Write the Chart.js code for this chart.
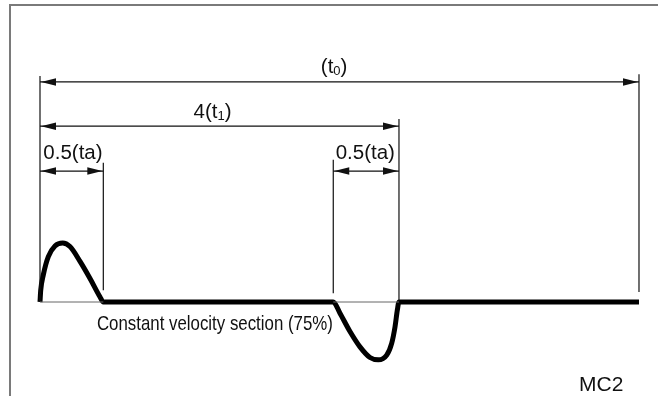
<!DOCTYPE html>
<html>
<head>
<meta charset="utf-8">
<script src="https://cdn.jsdelivr.net/npm/chart.js@4.4.1/dist/chart.umd.min.js"></script>
<style>
  html, body { margin: 0; padding: 0; background: #fff; }
  #wrap { width: 659px; height: 396px; }
</style>
</head>
<body>
<div id="wrap"><canvas id="chart" width="659" height="396"></canvas></div>
<script>
// time axis: (t0) = 100, value axis: peak of the curve = 1
const profileX = [0, 0.12, 0.55, 1.39, 2.5, 3.79, 5.0, 6.68, 8.35, 10.0, 10.57,
                  48.96, 50.08, 51.75, 53.42, 55.09, 56.48, 57.88, 58.71, 59.27, 59.65, 59.93, 100];
const profileY = [0, 0.2, 0.46, 0.77, 0.95, 1.0, 0.94, 0.69, 0.40, 0.09, 0,
                  0, -0.19, -0.50, -0.76, -0.94, -0.98, -0.90, -0.70, -0.42, -0.14, 0, 0];

// vertical extension lines
const extX = [0, 10.57, 48.96, 59.93, 100];
const extTop = [3.83, 2.36, 2.41, 3.10, 3.86];
const extBottom = [0, 0.2, 0.15, 0.03, 0.17];

// thin reference line under the two acceleration sections
const baseFrom = [0, 48.96];
const baseTo = [10.57, 59.93];

// dimension arrows
const dimFrom = [0, 0, 0, 48.96];
const dimTo = [100, 59.93, 10.57, 59.93];
const dimLevel = [3.73, 2.98, 2.22, 2.22];
const dimLabels = ['(t_0)', '4(t_1)', '0.5(ta)', '0.5(ta)'];
const dimLabelX = [49.1, 28.8, 5.5, 54.3];
const dimLabelY = [3.97, 3.21, 2.52, 2.52];

const noteText = 'Constant velocity section (75%)';
const noteX = 29.2;
const noteY = -0.38;
const tagText = 'MC2';
const tagX = 93.7;
const tagY = -1.41;

const INK = '#111';
const FONT = '"Liberation Sans", Arial, Helvetica, sans-serif';

function seg(x1, y1, x2, y2, width, color) {
    return {
        data: [{ x: x1, y: y1 }, { x: x2, y: y2 }],
        borderColor: color,
        borderWidth: width,
        pointRadius: 0,
        tension: 0,
    };
}

const datasets = [];
baseFrom.forEach((x, i) => datasets.push(seg(x, 0, baseTo[i], 0, 1, '#666')));
extX.forEach((x, i) => datasets.push(seg(x, extBottom[i], x, extTop[i], 1.2, INK)));
dimFrom.forEach((x, i) => {
    datasets.push(seg(x, dimLevel[i], dimTo[i], dimLevel[i], 1.2, INK));
});
datasets.push({
    data: profileX.map((x, i) => ({ x: x, y: profileY[i] })),
    borderColor: '#000',
    borderWidth: 5,
    pointRadius: 0,
    cubicInterpolationMode: 'monotone',
    borderCapStyle: 'butt',
    borderJoinStyle: 'round',
});

// draws text with an optional "_x" subscript
function drawLabel(ctx, text, cx, cy, size) {
    const parts = [];
    const re = /_(\w)/g;
    let last = 0, m;
    while ((m = re.exec(text)) !== null) {
        parts.push({ t: text.slice(last, m.index), sub: false });
        parts.push({ t: m[1], sub: true });
        last = re.lastIndex;
    }
    parts.push({ t: text.slice(last), sub: false });
    const subSize = Math.round(size * 0.62);
    let total = 0;
    parts.forEach(p => {
        ctx.font = (p.sub ? subSize : size) + 'px ' + FONT;
        p.w = ctx.measureText(p.t).width;
        total += p.w;
    });
    let x = cx - total / 2;
    parts.forEach(p => {
        ctx.font = (p.sub ? subSize : size) + 'px ' + FONT;
        ctx.fillText(p.t, x, p.sub ? cy + size * 0.18 : cy);
        x += p.w;
    });
}

function drawFitted(ctx, text, cx, cy, size, width) {
    ctx.font = size + 'px ' + FONT;
    const w = ctx.measureText(text).width;
    ctx.save();
    ctx.translate(cx, cy);
    ctx.scale(width / w, 1);
    ctx.textAlign = 'center';
    ctx.fillText(text, 0, 0);
    ctx.restore();
}

function arrowHead(ctx, x, y, dir) {
    const len = 15, half = 3.8;
    ctx.beginPath();
    ctx.moveTo(x, y);
    ctx.lineTo(x + dir * len, y - half);
    ctx.lineTo(x + dir * len, y + half);
    ctx.closePath();
    ctx.fill();
}

const drawingPlugin = {
    id: 'drawing',
    beforeDraw(chart) {
        const ctx = chart.ctx;
        ctx.save();
        ctx.fillStyle = '#fff';
        ctx.fillRect(0, 0, chart.width, chart.height);
        // frame
        ctx.strokeStyle = '#7a7a7a';
        ctx.lineWidth = 2;
        ctx.beginPath();
        ctx.moveTo(10, chart.height);
        ctx.lineTo(10, 5);
        ctx.lineTo(chart.width - 1, 5);
        ctx.stroke();
        ctx.restore();
    },
    afterDatasetsDraw(chart) {
        const ctx = chart.ctx;
        const xs = chart.scales.x, ys = chart.scales.y;
        ctx.save();
        ctx.fillStyle = INK;
        dimFrom.forEach((x, i) => {
            const py = ys.getPixelForValue(dimLevel[i]);
            arrowHead(ctx, xs.getPixelForValue(x) + 1, py, 1);
            arrowHead(ctx, xs.getPixelForValue(dimTo[i]) - 1, py, -1);
        });
        ctx.textBaseline = 'middle';
        ctx.textAlign = 'left';
        dimLabels.forEach((t, i) => {
            drawLabel(ctx, t, xs.getPixelForValue(dimLabelX[i]), ys.getPixelForValue(dimLabelY[i]), 20.5);
        });
        drawFitted(ctx, noteText, xs.getPixelForValue(noteX), ys.getPixelForValue(noteY), 21, 236);
        ctx.textAlign = 'center';
        ctx.font = '21px ' + FONT;
        ctx.fillText(tagText, xs.getPixelForValue(tagX), ys.getPixelForValue(tagY));
        ctx.restore();
    }
};

new Chart(document.getElementById('chart'), {
    type: 'line',
    data: { datasets: datasets },
    options: {
        responsive: false,
        animation: false,
        events: [],
        layout: { padding: 0 },
        plugins: {
            legend: { display: false },
            tooltip: { enabled: false },
        },
        scales: {
            x: { type: 'linear', display: false, min: -6.678, max: 103.34 },
            y: { type: 'linear', display: false, min: -1.593, max: 5.119 },
        },
    },
    plugins: [drawingPlugin],
});
</script>
</body>
</html>
